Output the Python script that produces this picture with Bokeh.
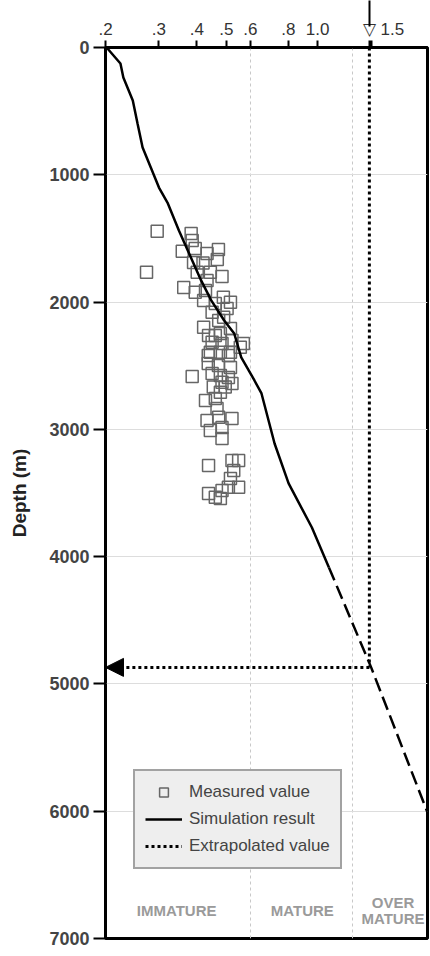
from bokeh.plotting import figure
from bokeh.models import (Range1d, FixedTicker, Arrow, NormalHead, Legend, LegendItem,
                          ColumnDataSource, LogAxis)
from bokeh.core.properties import value
from bokeh.embed import file_html
from bokeh.resources import INLINE

# ---------------- data ----------------
ro_ticks = [0.2, 0.3, 0.4, 0.5, 0.6, 0.8, 1.0, 1.5]
ro_tick_labels = [".2", ".3", ".4", ".5", ".6", ".8", "1.0", "1.5"]
depth_ticks = [0, 1000, 2000, 3000, 4000, 5000, 6000, 7000]
zone_bounds = [0.6, 1.3]

# simulation result (solid) Ro vs depth (m)
sim_ro = [0.200, 0.203, 0.224, 0.229, 0.246, 0.255, 0.265, 0.282, 0.300, 0.321, 0.349,
          0.413, 0.446, 0.492, 0.531, 0.560, 0.619, 0.653, 0.721, 0.802, 0.957, 1.089]
sim_depth = [0, 8, 126, 236, 416, 597, 786, 943, 1100, 1225, 1438,
             1830, 1987, 2145, 2247, 2435, 2616, 2718, 3111, 3425, 3771, 4085]

# extrapolated part of the simulation (dashed)
ext_ro = [1.089, 1.50, 2.30]
ext_depth = [4085, 4870, 6010]

# extrapolated value (dotted guide lines)
extrap_ro = 1.48
extrap_depth = 4870

# measured values
meas_ro = [0.296, 0.383, 0.386, 0.358, 0.395, 0.432, 0.471, 0.467, 0.390, 0.419,
           0.273, 0.401, 0.443, 0.484, 0.432, 0.362, 0.395, 0.427, 0.489, 0.516,
           0.421, 0.460, 0.449, 0.503, 0.490, 0.472, 0.421, 0.516, 0.437, 0.460,
           0.478, 0.449, 0.484, 0.522, 0.556, 0.569, 0.443, 0.478, 0.516, 0.436,
           0.508, 0.436, 0.471, 0.516, 0.386, 0.449, 0.478, 0.508, 0.522, 0.484,
           0.453, 0.496, 0.478, 0.427, 0.460, 0.466, 0.432, 0.472, 0.522, 0.443,
           0.484, 0.484, 0.437, 0.522, 0.549, 0.529, 0.516, 0.508, 0.549, 0.484,
           0.437, 0.460, 0.478]
meas_depth = [1443, 1461, 1516, 1600, 1579, 1618, 1587, 1665, 1689, 1694,
              1765, 1765, 1765, 1799, 1830, 1885, 1922, 1909, 1962, 2001,
              1987, 2011, 2079, 2050, 2119, 2145, 2197, 2207, 2262, 2262,
              2247, 2315, 2325, 2302, 2354, 2325, 2394, 2394, 2394, 2420,
              2420, 2482, 2498, 2514, 2584, 2561, 2577, 2592, 2639, 2629,
              2668, 2668, 2708, 2773, 2757, 2836, 2930, 2904, 2914, 3009,
              2985, 3071, 3284, 3244, 3244, 3323, 3386, 3454, 3454, 3480,
              3504, 3533, 3543]

zone_text = ["IMMATURE", "MATURE", "OVER", "MATURE"]
zone_x = [0.343, 0.89, 1.77, 1.77]
zone_y = [6780, 6780, 6720, 6845]

legend_labels = ["Measured value", "Simulation result", "Extrapolated value"]

FONT = "Liberation Sans"
NBSP = "\u00a0"

# ---------------- figure ----------------
p = figure(width=430, height=956, x_axis_type="log", x_axis_location="above",
           x_range=Range1d(0.2, 2.3), y_range=Range1d(7000, 0),
           output_backend="svg", toolbar_location=None,
           min_border_left=105, min_border_right=3, min_border_top=47, min_border_bottom=18)
p.background_fill_color = "white"
p.border_fill_color = "white"
p.outline_line_color = "black"
p.outline_line_width = 3

# x axis (top); the extrapolated value gets an open arrow head as its label
xa = p.xaxis[0]
xa.ticker = FixedTicker(ticks=ro_ticks + [extrap_ro])
overrides = {t: l for t, l in zip(ro_ticks, ro_tick_labels)}
overrides[ro_ticks[-1]] = NBSP * 9 + ro_tick_labels[-1]   # label sits right of the arrow
overrides[extrap_ro] = "\u25bd"
xa.major_label_overrides = overrides
xa.minor_tick_line_color = None
xa.major_tick_in = 0
xa.major_tick_out = 7
xa.major_tick_line_width = 2
xa.axis_line_width = 2.5
xa.axis_line_color = "black"
xa.major_label_standoff = 2
xa.major_label_text_font = FONT
xa.major_label_text_font_size = "17px"
xa.major_label_text_color = "#333333"

# arrow shaft above the top axis
shaft = LogAxis(ticker=FixedTicker(ticks=[extrap_ro]),
                axis_line_color=None, major_tick_out=16, major_tick_in=10,
                major_tick_line_width=2, major_tick_line_color="black",
                minor_tick_line_color=None, major_label_text_font_size="0px",
                major_label_standoff=0, major_label_overrides={extrap_ro: ""})
p.add_layout(shaft, "above")

# y axis (left)
ya = p.yaxis[0]
ya.ticker = FixedTicker(ticks=depth_ticks)
ya.minor_tick_line_color = None
ya.major_tick_in = 0
ya.major_tick_out = 12
ya.major_tick_line_width = 2
ya.axis_line_width = 2.5
ya.axis_line_color = "black"
ya.major_label_standoff = 4
ya.major_label_text_font = FONT
ya.major_label_text_font_size = "18px"
ya.major_label_text_font_style = "bold"
ya.major_label_text_color = "#444444"
ya.axis_label = "Depth (m)"
ya.axis_label_text_font = FONT
ya.axis_label_text_font_size = "19px"
ya.axis_label_text_font_style = "bold"
ya.axis_label_text_color = "#222222"
ya.axis_label_standoff = 16

# grids
p.xgrid.ticker = FixedTicker(ticks=zone_bounds)
p.xgrid.grid_line_color = "#c8c8c8"
p.xgrid.grid_line_dash = "3 3"
p.xgrid.grid_line_width = 1
p.ygrid.ticker = FixedTicker(ticks=depth_ticks)
p.ygrid.grid_line_color = "#dddddd"
p.ygrid.grid_line_width = 1.2

# measured values
src = ColumnDataSource(dict(x=meas_ro, y=meas_depth))
sq = p.scatter("x", "y", source=src, marker="square", size=12,
               fill_color=None, line_color="#666666", line_width=1.5)

# simulation
sim = p.line(sim_ro, sim_depth, line_color="black", line_width=2.5)
p.line(ext_ro, ext_depth, line_color="black", line_width=2.5, line_dash="14 6")

# extrapolated guide lines
vline = p.line([extrap_ro, extrap_ro], [0, extrap_depth], line_color="black",
               line_width=3, line_dash="3 3")
p.add_layout(Arrow(x_start=extrap_ro, y_start=extrap_depth, x_end=0.2, y_end=extrap_depth,
                   line_color="black", line_width=3, line_dash="3 3",
                   end=NormalHead(size=18, fill_color="black", line_color="black")))

# zone labels
p.text(x=zone_x, y=zone_y, text=zone_text, text_align="center", text_baseline="middle",
       text_font=value(FONT), text_font_style="bold", text_font_size="15px",
       text_color="#9a9a9a")

# legend
legend = Legend(items=[LegendItem(label=legend_labels[0], renderers=[sq]),
                       LegendItem(label=legend_labels[1], renderers=[sim]),
                       LegendItem(label=legend_labels[2], renderers=[vline])],
                location=(28, 69), orientation="vertical",
                background_fill_color="#eeeeee", background_fill_alpha=1,
                border_line_color="#555555", border_line_width=2,
                label_text_font=FONT, label_text_font_size="17px", label_text_color="#444444",
                glyph_width=37, glyph_height=22, label_height=22, spacing=5,
                padding=10, margin=0, label_standoff=7)
p.add_layout(legend)

open("out.html", "w").write(file_html(p, INLINE))
